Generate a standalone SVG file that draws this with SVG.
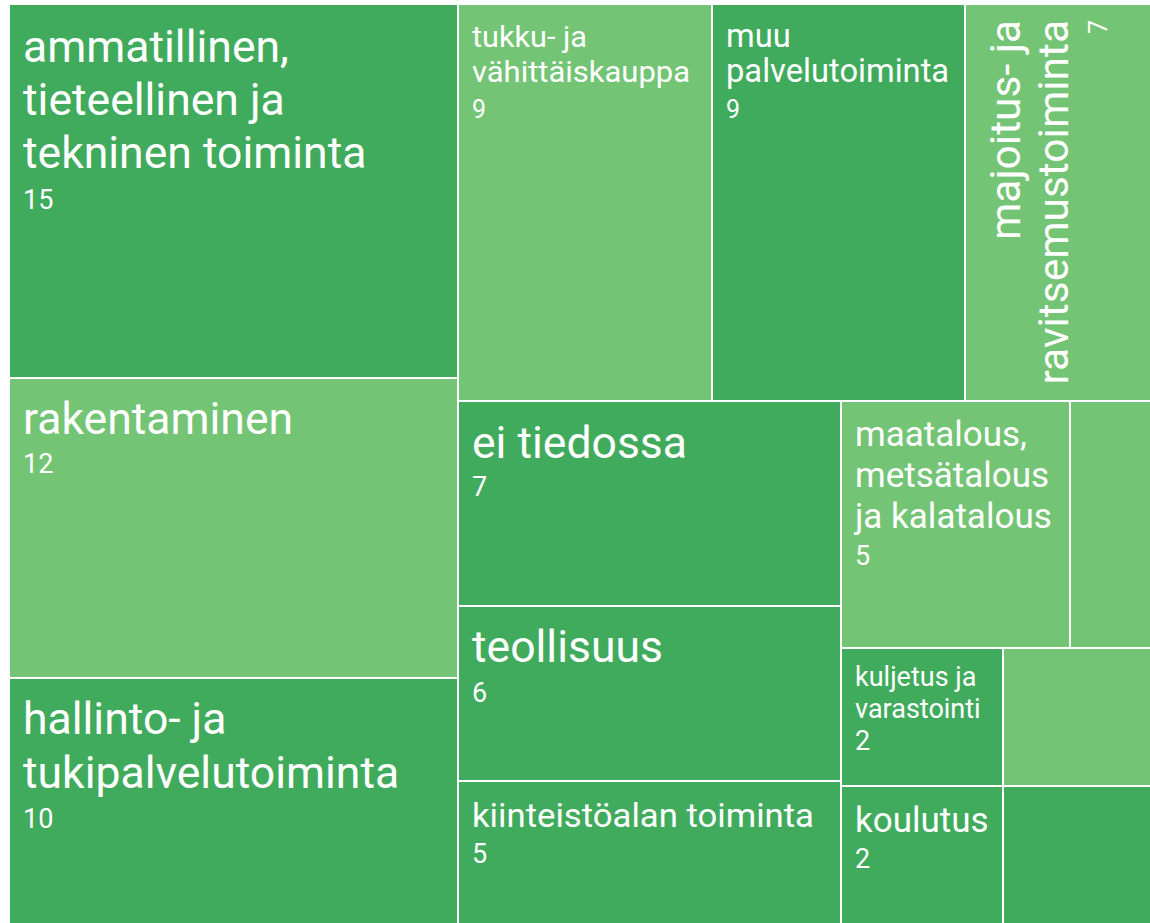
<svg xmlns="http://www.w3.org/2000/svg" width="1150" height="923" viewBox="0 0 1150 923">
<style>
.d{fill:#41ab5d}
.l{fill:#74c476}
text{font-family:Roboto,"Liberation Sans",sans-serif;fill:#ffffff}
.b{font-size:44.5px}
.n{font-size:27px}
</style>
<rect x="0" y="0" width="1150" height="923" fill="#ffffff"/>
<g id="ammatillinen">
<rect class="d" x="10" y="5" width="447" height="372"/>
<text class="b" x="23" y="62">ammatillinen,</text>
<text class="b" x="23" y="115">tieteellinen ja</text>
<text class="b" x="23" y="168">tekninen toiminta</text>
<text class="n" x="23" y="209">15</text>
</g>
<g id="rakentaminen">
<rect class="l" x="10" y="379" width="447" height="298"/>
<text class="b" x="23" y="434">rakentaminen</text>
<text class="n" x="23" y="473">12</text>
</g>
<g id="hallinto">
<rect class="d" x="10" y="679" width="447" height="244"/>
<text class="b" x="23" y="734">hallinto- ja</text>
<text class="b" x="23" y="788">tukipalvelutoiminta</text>
<text class="n" x="23" y="828">10</text>
</g>
<g id="tukku">
<rect class="l" x="459" y="5" width="252" height="395"/>
<text x="472" y="47" font-size="29.5" textLength="115" lengthAdjust="spacingAndGlyphs">tukku- ja</text>
<text x="472" y="82" font-size="29.5" textLength="218" lengthAdjust="spacingAndGlyphs">vähittäiskauppa</text>
<text x="472" y="118" font-size="25">9</text>
</g>
<g id="muu">
<rect class="d" x="713" y="5" width="251" height="395"/>
<text x="726" y="47" font-size="32.7">muu</text>
<text x="726" y="82" font-size="32.7">palvelutoiminta</text>
<text x="726" y="118" font-size="25">9</text>
</g>
<g id="majoitus">
<rect class="l" x="966" y="5" width="184" height="395"/>
<text transform="translate(1020,20) rotate(-90)" font-size="42.5" text-anchor="end">majoitus- ja</text>
<text transform="translate(1068,20) rotate(-90)" font-size="42.5" text-anchor="end">ravitsemustoiminta</text>
<text transform="translate(1107,20) rotate(-90)" font-size="25" text-anchor="end">7</text>
</g>
<g id="ei-tiedossa">
<rect class="d" x="459" y="402" width="381" height="203"/>
<text class="b" x="472" y="458">ei tiedossa</text>
<text class="n" x="472" y="496">7</text>
</g>
<g id="teollisuus">
<rect class="d" x="459" y="607" width="381" height="173"/>
<text class="b" x="472" y="662">teollisuus</text>
<text class="n" x="472" y="702">6</text>
</g>
<g id="kiinteisto">
<rect class="d" x="459" y="782" width="381" height="141"/>
<text x="472" y="827" font-size="34" textLength="342" lengthAdjust="spacingAndGlyphs">kiinteistöalan toiminta</text>
<text class="n" x="472" y="863">5</text>
</g>
<g id="maatalous">
<rect class="l" x="842" y="402" width="227" height="245"/>
<text x="855" y="446" font-size="35">maatalous,</text>
<text x="855" y="487" font-size="35">metsätalous</text>
<text x="855" y="528" font-size="35">ja kalatalous</text>
<text class="n" x="855" y="565">5</text>
</g>
<g id="pieni-1">
<rect class="l" x="1071" y="402" width="79" height="245"/>
</g>
<g id="kuljetus">
<rect class="d" x="842" y="649" width="160" height="136"/>
<text x="855" y="686" font-size="27">kuljetus ja</text>
<text x="855" y="718" font-size="27">varastointi</text>
<text class="n" x="855" y="750">2</text>
</g>
<g id="pieni-2">
<rect class="l" x="1004" y="649" width="146" height="136"/>
</g>
<g id="koulutus">
<rect class="d" x="842" y="787" width="160" height="136"/>
<text x="855" y="832" font-size="35">koulutus</text>
<text class="n" x="855" y="868">2</text>
</g>
<g id="pieni-3">
<rect class="d" x="1004" y="787" width="146" height="136"/>
</g>
<g id="connectors"/>
</svg>
